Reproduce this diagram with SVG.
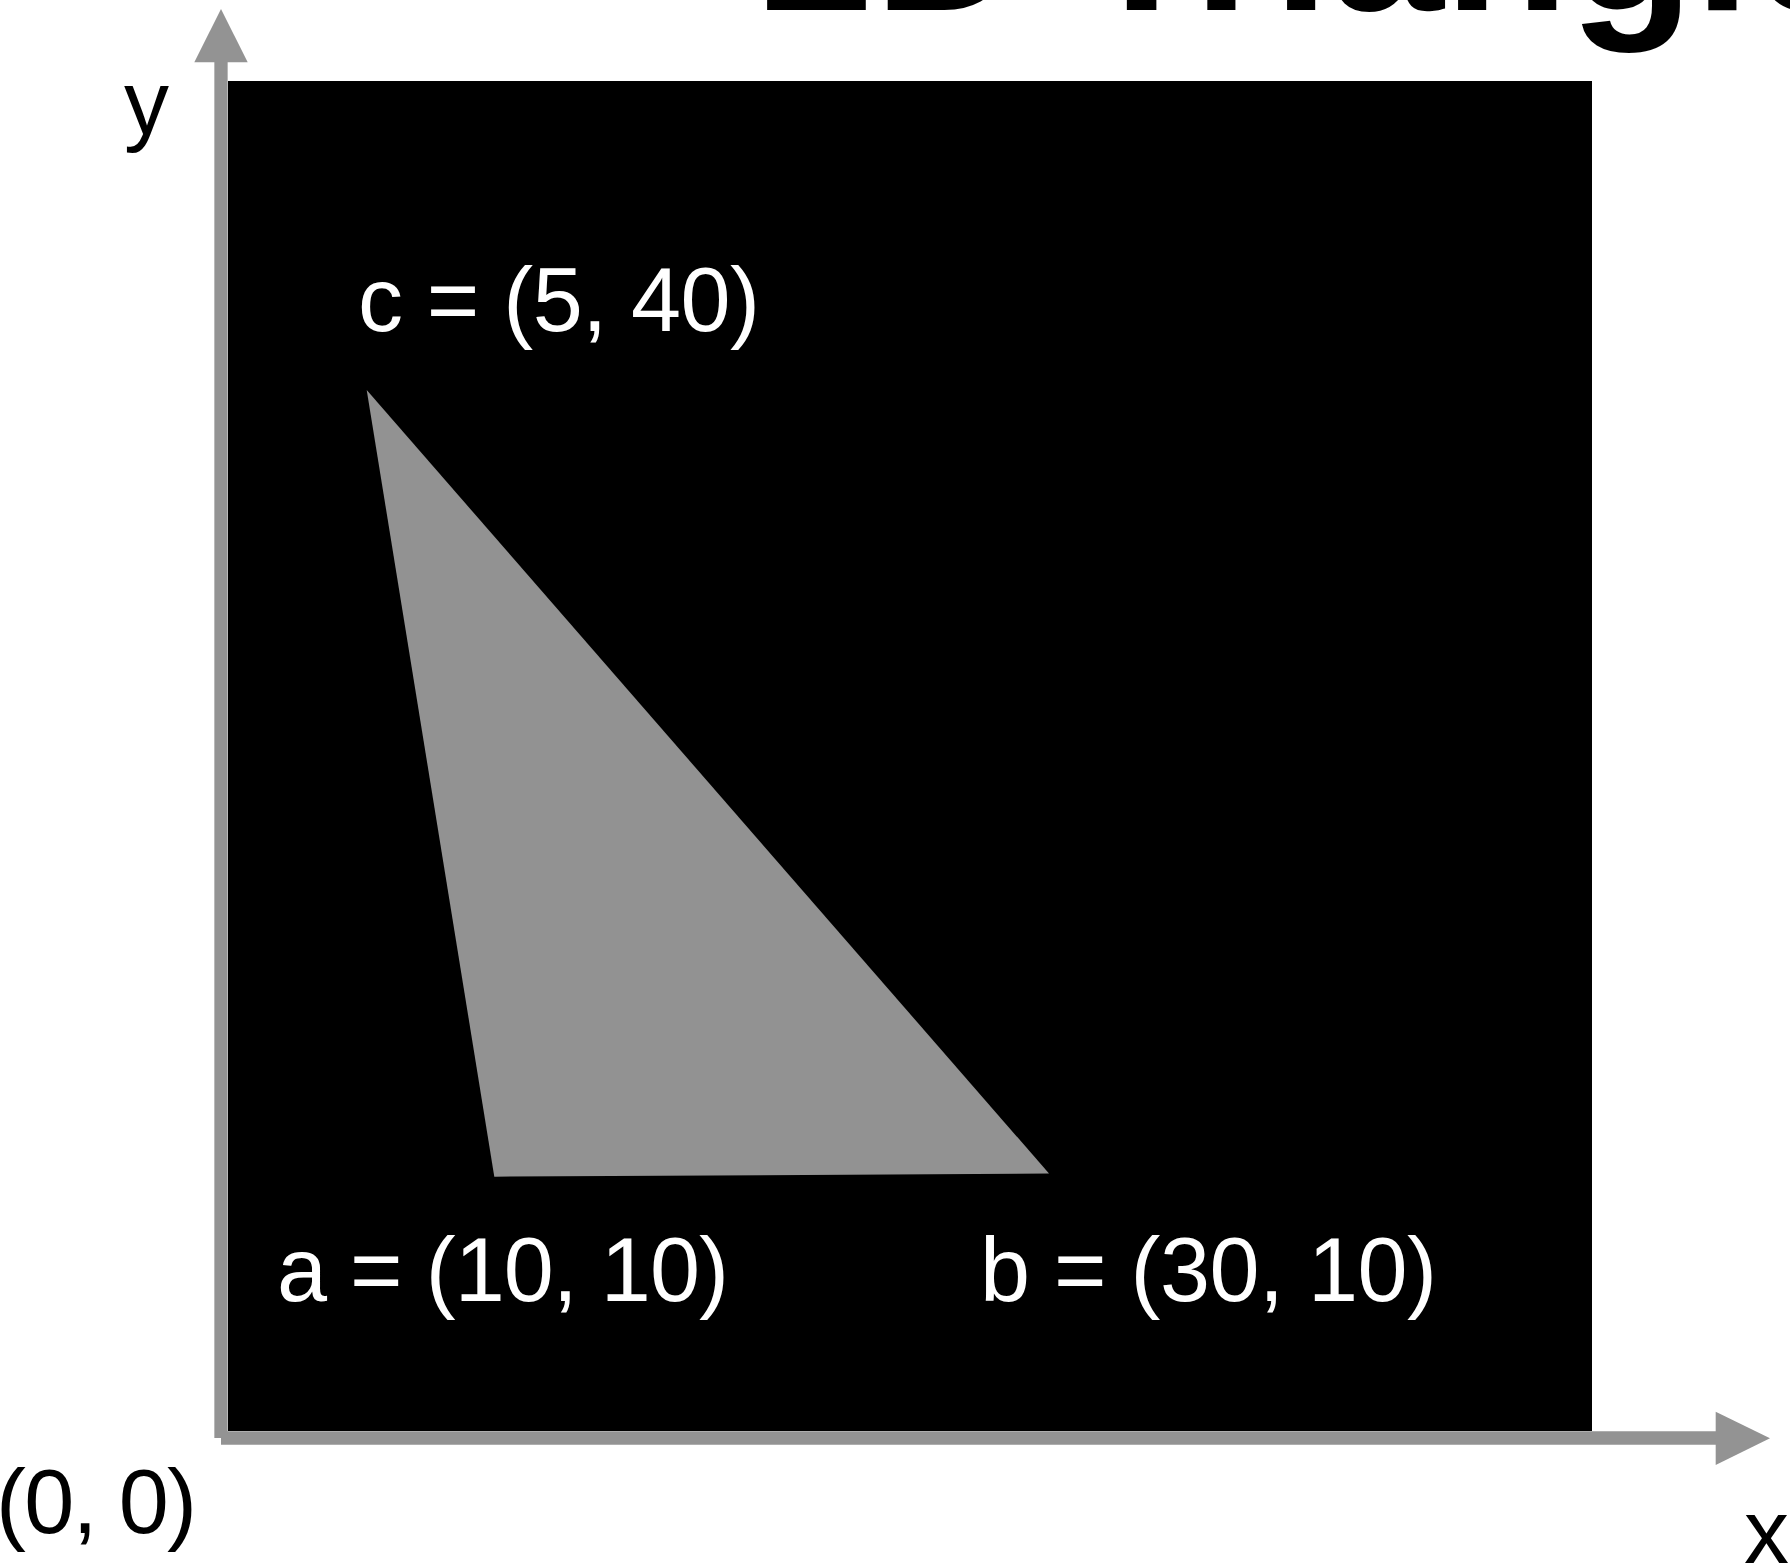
<svg xmlns="http://www.w3.org/2000/svg" width="1790" height="1568" viewBox="0 0 1790 1568">
  <style>
    .lbl { font-family: "Liberation Sans", Arial, Helvetica, sans-serif; font-size: 90px; }
    .white { fill: #ffffff; }
    .dark { fill: #000000; }
    .axis { stroke: #939393; stroke-width: 13.3; fill: none; stroke-linecap: butt; }
    .head { fill: #939393; }
    .title { font-family: "Liberation Sans", Arial, Helvetica, sans-serif; font-size: 205px; font-weight: bold; fill: #000000; }
  </style>
  <rect x="0" y="0" width="1790" height="1568" fill="#ffffff"/>
  <g id="title">
    <text class="title" x="760" y="10">2D Triangle</text>
  </g>
  <g id="canvas">
    <rect x="228" y="81" width="1364" height="1350" fill="#000000"/>
  </g>
  <g id="triangle">
    <polygon points="366.7,390 494.3,1176.7 1049,1173.5" fill="#929292"/>
  </g>
  <g id="connectors">
    <line class="axis" x1="221" y1="1438" x2="221" y2="60"/>
    <polygon class="head" points="194.3,62.3 221,9 247.7,62.3"/>
    <line class="axis" x1="221" y1="1438" x2="1718" y2="1438"/>
    <polygon class="head" points="1715.7,1411.7 1770,1438.3 1715.7,1465"/>
  </g>
  <g id="label-c">
    <text class="lbl white" x="358" y="331" textLength="402" lengthAdjust="spacing">c = (5, 40)</text>
  </g>
  <g id="label-a">
    <text class="lbl white" x="277" y="1301" textLength="452" lengthAdjust="spacing">a = (10, 10)</text>
  </g>
  <g id="label-b">
    <text class="lbl white" x="980" y="1301" textLength="457" lengthAdjust="spacing">b = (30, 10)</text>
  </g>
  <g id="label-y">
    <text class="lbl dark" x="124" y="134">y</text>
  </g>
  <g id="label-x">
    <text class="lbl dark" x="1744" y="1563">x</text>
  </g>
  <g id="label-origin">
    <text class="lbl dark" x="-4" y="1533" textLength="201" lengthAdjust="spacing">(0, 0)</text>
  </g>
</svg>
